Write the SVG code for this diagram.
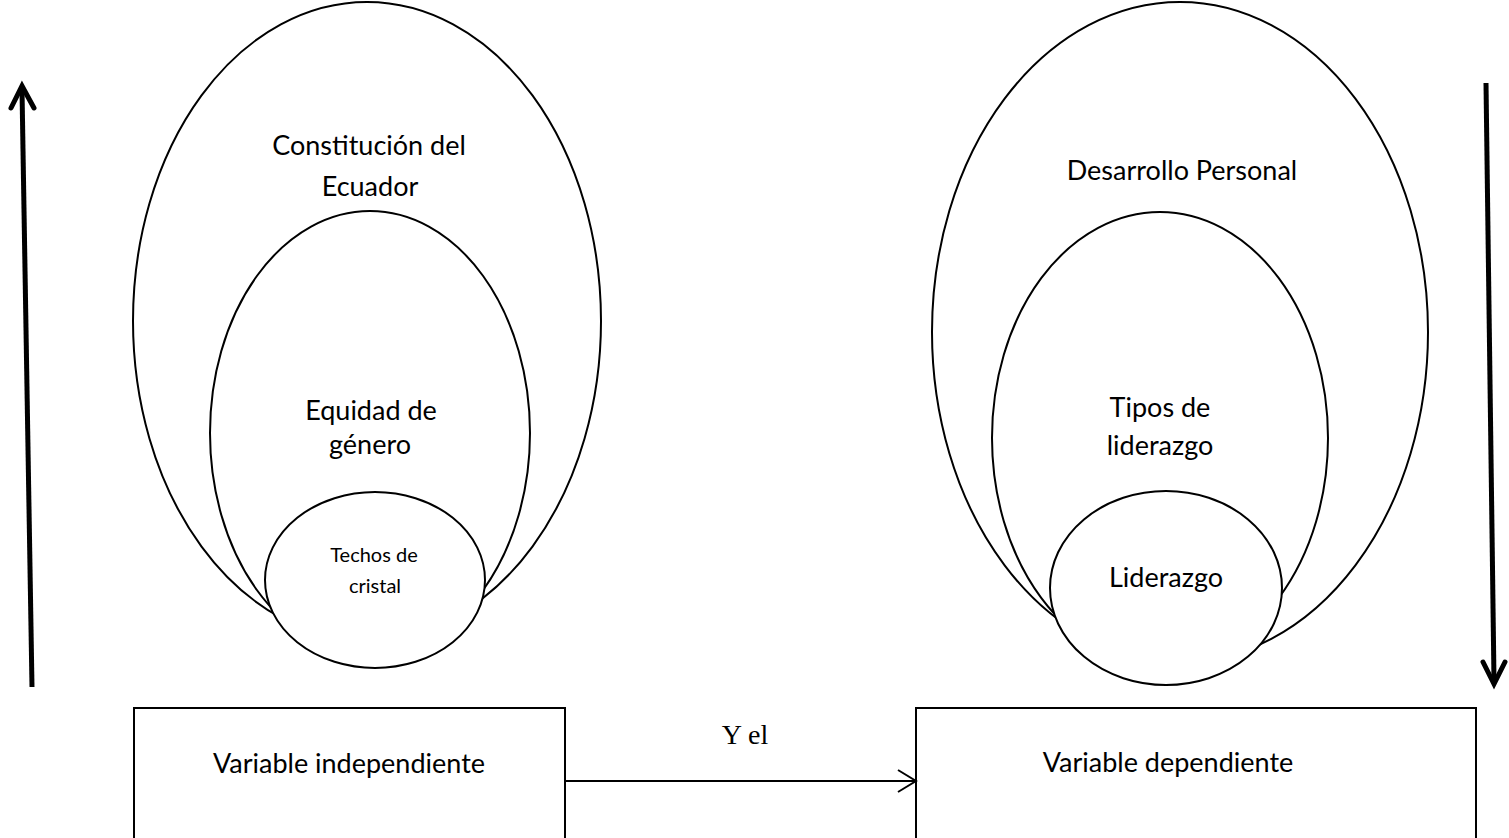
<svg xmlns="http://www.w3.org/2000/svg" width="1509" height="838" viewBox="0 0 1509 838">
<style>
.e{fill:#fff;stroke:#000;stroke-width:2}
.t{font-family:Lato,"Open Sans",sans-serif;fill:#000;text-anchor:middle;font-size:27px}
.s{font-size:20px}
.b{fill:#fff;stroke:#000;stroke-width:2}
.big{stroke:#000;stroke-width:5;fill:none}
</style>
<rect width="1509" height="838" fill="#fff"/>
<g id="left-outer">
<ellipse class="e" cx="367" cy="321" rx="234" ry="319"/>
<text class="t" x="369" y="155">Constitución del</text>
<text class="t" x="370" y="196">Ecuador</text>
</g>
<g id="left-middle">
<ellipse class="e" cx="370" cy="433" rx="160" ry="222"/>
<text class="t" x="371" y="420">Equidad de</text>
<text class="t" x="370" y="454">género</text>
</g>
<g id="left-inner">
<ellipse class="e" cx="375" cy="580" rx="110" ry="88"/>
<text class="t s" x="374" y="562">Techos de</text>
<text class="t s" x="375" y="593">cristal</text>
</g>
<g id="right-outer">
<ellipse class="e" cx="1180" cy="332" rx="248" ry="330"/>
<text class="t" x="1182" y="180">Desarrollo Personal</text>
</g>
<g id="right-middle">
<ellipse class="e" cx="1160" cy="438" rx="168" ry="226"/>
<text class="t" x="1160" y="417">Tipos de</text>
<text class="t" x="1160" y="455">liderazgo</text>
</g>
<g id="right-inner">
<ellipse class="e" cx="1166" cy="588" rx="116" ry="97"/>
<text class="t" x="1166" y="587">Liderazgo</text>
</g>
<g id="box-independiente">
<rect class="b" x="134" y="708" width="431" height="140"/>
<text class="t" x="349" y="773">Variable independiente</text>
</g>
<g id="box-dependiente">
<rect class="b" x="916" y="708" width="560" height="140"/>
<text class="t" x="1168" y="772">Variable dependiente</text>
</g>
<g id="connectors">
<line x1="565" y1="781" x2="916" y2="781" stroke="#000" stroke-width="2"/>
<polyline points="898,770 916,781 898,792" fill="none" stroke="#000" stroke-width="2"/>
<text x="745" y="744" font-family="Liberation Serif,serif" font-size="28" text-anchor="middle">Y el</text>
<line class="big" x1="32" y1="687" x2="22" y2="90"/>
<polyline class="big" points="11,108 22,86 34,108" stroke-linecap="round"/>
<line class="big" x1="1486" y1="83" x2="1494" y2="680"/>
<polyline class="big" points="1483,662 1494,684 1505,662" stroke-linecap="round"/>
</g>
</svg>
